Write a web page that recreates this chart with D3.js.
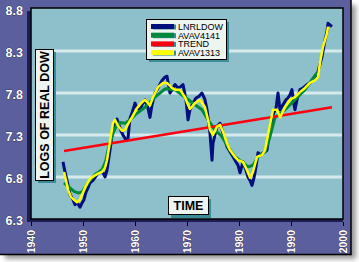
<!DOCTYPE html>
<html><head><meta charset="utf-8">
<script src="https://cdn.jsdelivr.net/npm/d3@7"></script>
<style>html,body{margin:0;padding:0;background:#fff;}svg{display:block;}</style>
</head><body>
<script>
const yTicks = [6.3, 6.8, 7.3, 7.8, 8.3, 8.8];
const gridValues = [6.8, 7.3, 7.8, 8.3];
const xTicks = [1940, 1950, 1960, 1970, 1980, 1990, 2000];
const seriesNames = ["LNRLDOW", "AVAV4141", "TREND", "AVAV1313"];
const seriesColors = ["#000f7c", "#00893c", "#ff0010", "#ffff00"];

const lnrldow = [[1946.15,6.98],[1946.54,6.86],[1946.92,6.76],[1947.50,6.59],[1948.08,6.53],[1948.46,6.47],[1948.85,6.50],[1949.42,6.44],[1949.81,6.49],[1950.19,6.53],[1950.58,6.62],[1950.96,6.67],[1951.35,6.73],[1951.92,6.76],[1952.50,6.81],[1953.08,6.86],[1953.65,6.88],[1954.23,6.80],[1954.62,6.88],[1955.19,7.12],[1955.58,7.30],[1955.96,7.42],[1956.54,7.49],[1956.92,7.42],[1957.31,7.35],[1957.69,7.30],[1958.27,7.24],[1958.65,7.26],[1959.04,7.50],[1959.42,7.56],[1960.00,7.68],[1960.38,7.62],[1960.96,7.60],[1961.35,7.66],[1961.92,7.72],[1962.50,7.62],[1962.88,7.51],[1963.27,7.66],[1963.85,7.80],[1964.42,7.86],[1965.19,7.95],[1965.77,7.99],[1966.15,8.00],[1966.73,7.80],[1967.12,7.84],[1967.69,7.90],[1968.27,7.86],[1968.65,7.87],[1969.23,7.90],[1969.81,7.72],[1970.19,7.48],[1970.58,7.60],[1971.15,7.68],[1971.73,7.74],[1972.31,7.76],[1972.88,7.80],[1973.46,7.72],[1973.85,7.60],[1974.42,7.32],[1974.81,7.00],[1975.00,7.20],[1975.38,7.30],[1975.77,7.40],[1976.35,7.44],[1976.92,7.32],[1977.31,7.24],[1977.69,7.16],[1978.27,7.10],[1978.85,7.04],[1979.23,7.00],[1979.81,6.94],[1980.19,6.85],[1980.77,6.98],[1981.35,6.88],[1981.73,6.80],[1982.12,6.76],[1982.50,6.70],[1982.88,6.79],[1983.08,6.85],[1983.46,7.00],[1983.65,7.09],[1984.23,7.06],[1984.62,7.09],[1985.00,7.10],[1985.38,7.12],[1985.96,7.36],[1986.35,7.50],[1986.73,7.57],[1987.12,7.62],[1987.50,7.80],[1987.88,7.60],[1988.46,7.66],[1989.04,7.72],[1989.42,7.74],[1989.81,7.78],[1990.19,7.84],[1990.58,7.66],[1990.77,7.60],[1991.15,7.72],[1991.73,7.84],[1992.31,7.86],[1993.08,7.90],[1993.65,7.92],[1994.23,7.95],[1995.00,8.01],[1995.38,8.10],[1995.96,8.23],[1996.54,8.43],[1996.92,8.53],[1997.12,8.63],[1997.50,8.61],[1997.88,8.59]];

const avav4141 = [[1946.35,6.73],[1946.92,6.70],[1947.50,6.67],[1948.27,6.63],[1949.04,6.61],[1949.81,6.62],[1950.38,6.67],[1950.96,6.73],[1951.73,6.79],[1952.50,6.84],[1953.27,6.86],[1953.85,6.91],[1954.42,7.00],[1954.81,7.12],[1955.19,7.20],[1955.77,7.32],[1956.35,7.40],[1957.12,7.45],[1958.08,7.44],[1959.04,7.48],[1960.00,7.54],[1961.92,7.63],[1963.85,7.75],[1965.77,7.85],[1967.69,7.84],[1969.62,7.75],[1971.54,7.66],[1972.88,7.60],[1974.04,7.48],[1975.38,7.36],[1976.73,7.28],[1977.88,7.16],[1979.23,7.04],[1980.58,6.98],[1981.73,6.92],[1982.69,6.94],[1983.65,7.04],[1985.00,7.10],[1985.96,7.28],[1986.92,7.51],[1988.85,7.60],[1990.77,7.72],[1992.69,7.84],[1994.62,8.01],[1995.00,8.04]];

const trend = [[1946.35,7.11],[1997.88,7.63]];

const avav1313 = [[1946.35,6.86],[1946.73,6.76],[1947.12,6.65],[1947.69,6.56],[1948.27,6.53],[1948.85,6.50],[1949.42,6.53],[1949.81,6.59],[1950.38,6.67],[1950.96,6.74],[1951.54,6.79],[1952.31,6.82],[1952.88,6.84],[1953.65,6.86],[1954.23,6.91],[1954.62,7.00],[1955.00,7.15],[1955.38,7.30],[1955.77,7.44],[1956.15,7.48],[1956.73,7.41],[1957.50,7.35],[1958.08,7.36],[1958.65,7.43],[1959.42,7.51],[1960.38,7.62],[1961.35,7.69],[1961.92,7.72],[1962.50,7.68],[1962.88,7.65],[1963.46,7.75],[1964.42,7.87],[1965.38,7.92],[1966.15,7.92],[1967.12,7.86],[1967.69,7.84],[1968.65,7.84],[1969.62,7.75],[1970.19,7.66],[1970.58,7.61],[1971.54,7.68],[1972.50,7.72],[1973.46,7.63],[1974.04,7.48],[1974.42,7.36],[1975.00,7.30],[1975.77,7.40],[1976.35,7.42],[1976.92,7.34],[1977.69,7.20],[1978.27,7.12],[1979.23,7.04],[1979.81,7.00],[1980.77,6.98],[1981.54,6.88],[1982.12,6.79],[1982.69,6.86],[1983.46,7.04],[1984.42,7.06],[1985.00,7.12],[1985.38,7.24],[1985.96,7.42],[1986.54,7.60],[1987.31,7.60],[1987.88,7.51],[1988.85,7.63],[1989.81,7.72],[1990.77,7.75],[1991.73,7.81],[1992.69,7.86],[1993.65,7.92],[1994.62,7.95],[1995.19,7.99],[1995.58,8.16],[1996.15,8.35],[1996.92,8.51],[1997.12,8.59]];

const W = 359, H = 262;
const FONT = "Liberation Sans, Arial, sans-serif";
const svg = d3.select("body").append("svg").attr("width", W).attr("height", H);
const defs = svg.append("defs");
const f = defs.append("filter").attr("id","sh").attr("x","-5%").attr("y","-5%").attr("width","115%").attr("height","115%");
f.append("feGaussianBlur").attr("stdDeviation", 2.5);

// outer panel shadow & panel
svg.append("rect").attr("x", 5).attr("y", 5).attr("width", 351).attr("height", 254).attr("fill", "#9a9a9a").attr("filter","url(#sh)");
svg.append("rect").attr("x", 0).attr("y", 0).attr("width", 351).attr("height", 254).attr("fill", "#5b5f9d");
svg.append("path").attr("d","M351,0V254.5H0").attr("fill","none").attr("stroke","#000").attr("stroke-width",1.5);

const x = d3.scaleLinear().domain([1940, 2000]).range([31, 343]);
const y = d3.scaleLinear().domain([6.3, 8.8]).range([219, 9]);

// plot shadow (navy bevel)
svg.append("rect").attr("x", 27).attr("y", 11).attr("width", 316).attr("height", 211).attr("fill", "#1d1d55");
// plot bg
svg.append("rect").attr("x", 31).attr("y", 8).attr("width", 312).attr("height", 211).attr("fill", "#8ec0cb").attr("stroke", "#000").attr("stroke-width", 1.5);

// grid lines
svg.append("g").selectAll("line").data(gridValues).join("line")
  .attr("x1", 36).attr("x2", 342).attr("y1", d => y(d)).attr("y2", d => y(d))
  .attr("stroke", "#d6eaed").attr("stroke-width", 3);

// x axis ticks & labels
const xAxis = d3.axisBottom(x).tickValues(xTicks).tickSize(4).tickFormat(d3.format("d"));
const gx = svg.append("g").attr("transform", "translate(0,222)").call(xAxis);
gx.select(".domain").remove();
gx.selectAll(".tick line").attr("stroke", "#000").attr("stroke-width", 1);
gx.selectAll(".tick text")
  .attr("transform", "rotate(-90)")
  .attr("x", -8).attr("y", 0).attr("dy", "0.35em")
  .attr("text-anchor", "end")
  .attr("fill", "#fff").attr("stroke", "#000").attr("stroke-width", 0.4).attr("paint-order", "stroke")
  .style("font-family", FONT).style("font-size", "10.5px").style("font-weight", "bold");

// y axis labels
const yAxis = d3.axisLeft(y).tickValues(yTicks).tickSize(0).tickFormat(d3.format(".1f"));
const gy = svg.append("g").attr("transform", "translate(23,1.5)").call(yAxis);
gy.select(".domain").remove();
gy.selectAll(".tick text").attr("x", 0)
  .attr("fill", "#fff").attr("stroke", "#111").attr("stroke-width", 0.6).attr("paint-order", "stroke")
  .style("font-family", FONT).style("font-size", "12.5px").style("font-weight", "bold");

// y title box
const boxFill = "#eef4ef", shadowCol = "#3b8c97";
svg.append("rect").attr("x", 38).attr("y", 52).attr("width", 18).attr("height", 131).attr("fill", shadowCol);
svg.append("rect").attr("x", 35.5).attr("y", 49.5).attr("width", 18).attr("height", 131).attr("fill", boxFill).attr("stroke", "#000").attr("stroke-width", 1);
svg.append("text").attr("transform", "translate(49,115) rotate(-90)").attr("text-anchor", "middle")
  .style("font-family", FONT).style("font-size", "12.5px").style("font-weight", "bold")
  .text("LOGS OF REAL DOW");

// TIME box
svg.append("rect").attr("x", 171).attr("y", 199).attr("width", 40).attr("height", 19).attr("fill", shadowCol);
svg.append("rect").attr("x", 168.5).attr("y", 196.5).attr("width", 40).attr("height", 18).attr("fill", boxFill).attr("stroke", "#000").attr("stroke-width", 1);
svg.append("text").attr("x", 188.5).attr("y", 210).attr("text-anchor", "middle")
  .style("font-family", FONT).style("font-size", "12.5px").style("font-weight", "bold")
  .text("TIME");

// lines
const line = d3.line().x(d => x(d[0])).y(d => y(d[1]));
const series = [lnrldow, avav4141, trend, avav1313];
const widths = [3, 3, 2.5, 2.5];
series.forEach((s, i) => {
  svg.append("path").datum(s).attr("d", line).attr("fill", "none")
    .attr("stroke", seriesColors[i]).attr("stroke-width", widths[i]).attr("stroke-linejoin", "round");
});

// legend
svg.append("rect").attr("x", 149).attr("y", 22).attr("width", 80).attr("height", 40).attr("fill", shadowCol);
svg.append("rect").attr("x", 146.5).attr("y", 19.5).attr("width", 80).attr("height", 40).attr("fill", boxFill).attr("stroke", "#000").attr("stroke-width", 1);
const lg = svg.append("g").selectAll("g").data(seriesNames).join("g")
  .attr("transform", (d, i) => `translate(151,${26.5 + i * 8.7})`);
lg.append("rect").attr("x", 2).attr("y", -2).attr("width", 23).attr("height", 5).attr("fill", shadowCol);
lg.append("rect").attr("x", 0).attr("y", -2.5).attr("width", 23).attr("height", 5).attr("fill", (d, i) => seriesColors[i]);
lg.append("text").attr("x", 27).attr("y", 3.3).text(d => d)
  .style("font-family", FONT).style("font-size", "9px");
</script>
</body></html>
